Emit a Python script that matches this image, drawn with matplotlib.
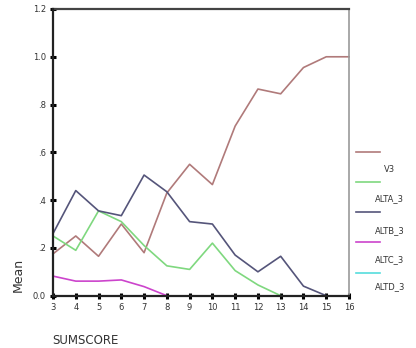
import matplotlib
matplotlib.use("Agg")
import matplotlib.pyplot as plt
from matplotlib.lines import Line2D

x_v3 = [3, 4, 5, 6, 7, 8, 9, 10, 11, 12, 13, 14, 15, 16]
v3 = [0.175, 0.25, 0.165, 0.30, 0.18, 0.43, 0.55, 0.465, 0.71, 0.865, 0.845, 0.955, 1.0, 1.0]
x_alta = [3, 4, 5, 6, 7, 8, 9, 10, 11, 12, 13]
alta = [0.25, 0.19, 0.355, 0.31, 0.21, 0.125, 0.11, 0.22, 0.105, 0.045, 0.0]
x_altb = [3, 4, 5, 6, 7, 8, 9, 10, 11, 12, 13, 14, 15]
altb = [0.26, 0.44, 0.355, 0.335, 0.505, 0.435, 0.31, 0.30, 0.17, 0.10, 0.165, 0.04, 0.0]
x_altc = [3, 4, 5, 6, 7, 8]
altc = [0.082, 0.061, 0.061, 0.066, 0.038, 0.0]
x_altd = [3, 4, 5, 6, 7, 8]
altd = [0.0, 0.0, 0.0, 0.0, 0.0, 0.0]

series_names = ["V3", "ALTA_3", "ALTB_3", "ALTC_3", "ALTD_3"]
colors = ["#b07a7a", "#7fd87f", "#55557a", "#cc44cc", "#55dddd"]
xticks = list(range(3, 17))
yticks = [0.0, 0.2, 0.4, 0.6, 0.8, 1.0, 1.2]
ytick_labels = ["0.0", ".2", ".4", ".6", ".8", "1.0", "1.2"]

fig = plt.figure(figsize=(4.16, 3.48), dpi=100)
ax = fig.add_axes([53/416, 1 - 295.7/348, (349-53)/416, (295.7-9)/348])

data = [(x_v3, v3), (x_alta, alta), (x_altb, altb), (x_altc, altc), (x_altd, altd)]
for (xs, ys), c in zip(data, colors):
    ax.plot(xs, ys, color=c, lw=1.2, zorder=2, clip_on=False)

ax.set_xlim(3, 16)
ax.set_ylim(0, 1.2)
ax.set_xticks(xticks)
ax.set_xticklabels([str(t) for t in xticks])
ax.set_yticks(yticks)
ax.set_yticklabels(ytick_labels)
ax.tick_params(axis="both", direction="inout", length=4, width=2.2, color="black",
               labelsize=6, labelcolor="#333333", pad=3)
for s in ["left", "bottom"]:
    ax.spines[s].set_linewidth(1.6)
    ax.spines[s].set_color("#222222")
    ax.spines[s].set_zorder(5)
ax.spines["top"].set_linewidth(1.6)
ax.spines["top"].set_color("#444444")
ax.spines["right"].set_linewidth(1.2)
ax.spines["right"].set_color("#999999")

fig.text(18/416, 1 - 275/348, "Mean", rotation=90, ha="center", va="center",
         fontsize=9, color="#333333")
fig.text(52/416, 1 - 340/348, "SUMSCORE", ha="left", va="center",
         fontsize=8.5, color="#333333")

# legend drawn manually: line above label
line_ys = [152, 182, 212, 242, 273]
label_ys = [169, 199, 231, 260, 287]
label_xs = [384, 375, 375, 375, 375]
for name, c, ly, ty, tx in zip(series_names, colors, line_ys, label_ys, label_xs):
    fig.add_artist(Line2D([356/416, 380/416], [1 - ly/348, 1 - ly/348],
                          color=c, lw=1.2, transform=fig.transFigure))
    fig.text(tx/416, 1 - ty/348, name, ha="left", va="center", fontsize=6,
             color="#333333")

fig.savefig("out.png", dpi=100)
